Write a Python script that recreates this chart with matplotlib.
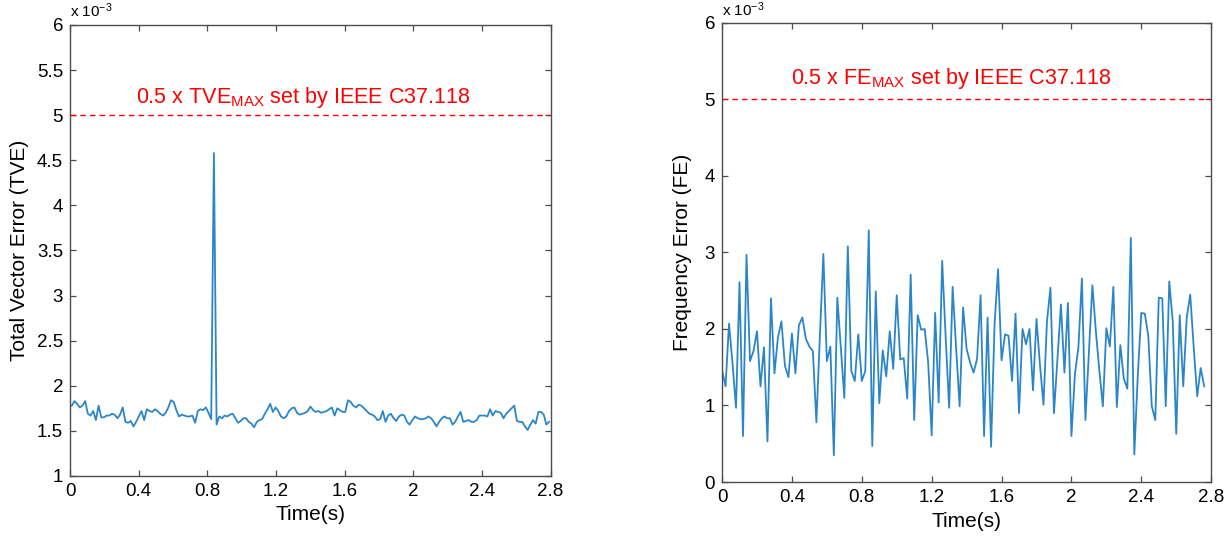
import numpy as np
import matplotlib
matplotlib.use("Agg")
import matplotlib.pyplot as plt
from matplotlib.ticker import FuncFormatter

plt.rcParams['font.family'] = ['Liberation Sans', 'DejaVu Sans']
plt.rcParams['mathtext.fontset'] = 'custom'
plt.rcParams['mathtext.rm'] = 'Liberation Sans'
plt.rcParams['mathtext.it'] = 'Liberation Sans'

# TVE samples (x 10^-3), uniformly spaced at 1/64 s starting at 0.01 s
tve = [
    1.78, 1.83, 1.80, 1.76, 1.78, 1.83, 1.69, 1.67, 1.72, 1.62,
    1.78, 1.65, 1.65, 1.67, 1.67, 1.69, 1.68, 1.64, 1.68, 1.76,
    1.60, 1.59, 1.61, 1.55, 1.60, 1.66, 1.72, 1.62, 1.74, 1.72,
    1.71, 1.74, 1.72, 1.69, 1.67, 1.70, 1.76, 1.84, 1.82, 1.73,
    1.66, 1.68, 1.67, 1.66, 1.66, 1.67, 1.59, 1.72, 1.74, 1.73,
    1.76, 1.70, 1.63, 4.58, 1.57, 1.66, 1.64, 1.67, 1.66, 1.68,
    1.69, 1.64, 1.59, 1.61, 1.64, 1.64, 1.60, 1.58, 1.54, 1.60,
    1.62, 1.63, 1.69, 1.74, 1.80, 1.71, 1.76, 1.72, 1.66, 1.64,
    1.66, 1.72, 1.75, 1.76, 1.70, 1.68, 1.69, 1.70, 1.72,
    1.77, 1.73, 1.71, 1.72, 1.70, 1.71, 1.72, 1.74, 1.76, 1.67,
    1.75, 1.73, 1.71, 1.71, 1.84, 1.82, 1.78, 1.76, 1.79, 1.78,
    1.75, 1.72, 1.69, 1.68, 1.66, 1.62, 1.63, 1.72, 1.60, 1.67,
    1.69, 1.64, 1.61, 1.66, 1.68, 1.67, 1.60, 1.57, 1.62, 1.66,
    1.64, 1.63, 1.63, 1.64, 1.66, 1.64, 1.60, 1.55, 1.60, 1.64,
    1.66, 1.64, 1.64, 1.57, 1.60, 1.66, 1.71, 1.60, 1.61, 1.62,
    1.60, 1.60, 1.62, 1.67, 1.67, 1.67, 1.66, 1.74, 1.67, 1.72,
    1.71, 1.70, 1.64, 1.69, 1.72, 1.75, 1.78, 1.61, 1.60, 1.60,
    1.55, 1.51, 1.57, 1.62, 1.58, 1.71, 1.71, 1.68, 1.57, 1.60,
]
tve_t0 = 0.01
tve_dt = 1 / 64

# Frequency error samples (x 10^-3), every 0.02 s from 0 s
fe = [
    1.46, 1.25, 2.07, 1.55, 0.97, 2.61, 0.60, 2.97, 1.58, 1.71,
    1.97, 1.25, 1.76, 0.53, 2.40, 1.42, 1.89, 2.10, 1.52, 1.37,
    1.94, 1.42, 2.05, 2.15, 1.87, 1.77, 1.71, 0.78, 1.90, 2.98,
    1.58, 1.77, 0.35, 2.41, 1.75, 1.10, 3.08, 1.45, 1.32, 1.93,
    1.32, 1.45, 3.29, 0.47, 2.49, 1.03, 1.72,
    1.38, 1.97, 1.48, 2.44, 1.60, 1.62, 1.09, 2.71, 0.81, 2.18,
    1.99, 2.00, 1.56, 0.61, 2.21, 1.04, 2.89, 1.90, 0.97, 2.55,
    1.75, 0.99, 2.28, 1.74, 1.56, 1.43, 1.61, 2.44, 0.60, 2.15,
    0.46, 2.06, 2.78, 1.59, 1.93, 1.91, 1.32, 2.20, 0.90, 2.00,
    1.80, 2.00, 1.20, 2.13, 1.53, 1.01,
    2.10, 2.54, 0.90, 1.60, 2.32, 1.43, 2.34, 0.60, 1.41, 1.76,
    2.66, 0.81, 1.70, 2.57, 1.97, 1.45, 0.99, 2.01, 1.77, 2.55,
    0.98, 1.79, 1.35, 1.22, 3.19, 0.36, 1.40, 2.21, 2.20, 1.91,
    0.99, 0.81, 2.41, 2.40, 0.99, 2.62, 2.10, 0.63, 2.18, 1.25,
    2.15, 2.45, 1.76, 1.12, 1.49, 1.25,
]
fe_dt = 0.02

tve_limit = 5.0
fe_limit = 5.0

x_ticks = [0, 0.4, 0.8, 1.2, 1.6, 2.0, 2.4, 2.8]
tve_yticks = [1, 1.5, 2, 2.5, 3, 3.5, 4, 4.5, 5, 5.5, 6]
fe_yticks = [0, 1, 2, 3, 4, 5, 6]

line_color = '#2b86c9'
edge_color = '#4d4d4d'

fig = plt.figure(figsize=(12.29, 5.37), dpi=100)
ax1 = fig.add_axes([0.057, 0.1136, 0.391, 0.840])
ax2 = fig.add_axes([0.5875, 0.1024, 0.398, 0.855])


def style(ax):
    for s in ax.spines.values():
        s.set_color(edge_color)
        s.set_linewidth(1.0)
    ax.tick_params(direction='in', length=4.5, width=0.9, color=edge_color,
                   top=True, right=True, labelsize=13.5, labelcolor='black', pad=5)
    ax.xaxis.set_major_formatter(FuncFormatter(lambda v, p: f'{v:g}'))
    ax.yaxis.set_major_formatter(FuncFormatter(lambda v, p: f'{v:g}'))


# Left: TVE
t1 = tve_t0 + np.arange(len(tve)) * tve_dt
ax1.plot(t1, tve, color=line_color, lw=1.3)
ax1.axhline(tve_limit, color='red', lw=1.0, ls=(0, (4, 3)))
ax1.set_xlim(0, 2.8)
ax1.set_ylim(1, 6)
ax1.set_xticks(x_ticks)
ax1.set_yticks(tve_yticks)
style(ax1)
ax1.set_xlabel('Time(s)', fontsize=15, labelpad=4)
ax1.set_ylabel('Total Vector Error (TVE)', fontsize=15, labelpad=6)
ax1.text(1.36, 5.2, r'0.5 x TVE$_{\mathrm{MAX}}$ set by IEEE C37.118',
         color='red', fontsize=15.5, ha='center', va='center')
ax1.text(0.0, 1.012, r'x 10$^{-3}$', transform=ax1.transAxes,
         fontsize=11, ha='left', va='bottom')

# Right: FE
t2 = np.arange(len(fe)) * fe_dt
ax2.plot(t2, fe, color=line_color, lw=1.3)
ax2.axhline(fe_limit, color='red', lw=1.0, ls=(0, (4, 3)))
ax2.set_xlim(0, 2.8)
ax2.set_ylim(0, 6)
ax2.set_xticks(x_ticks)
ax2.set_yticks(fe_yticks)
style(ax2)
ax2.set_xlabel('Time(s)', fontsize=15, labelpad=4)
ax2.set_ylabel('Frequency Error (FE)', fontsize=15, labelpad=9)
ax2.text(1.31, 5.27, r'0.5 x FE$_{\mathrm{MAX}}$ set by IEEE C37.118',
         color='red', fontsize=15.5, ha='center', va='center')
ax2.text(0.0, 1.008, r'x 10$^{-3}$', transform=ax2.transAxes,
         fontsize=11, ha='left', va='bottom')

fig.savefig('out.png', dpi=100, facecolor='white')
